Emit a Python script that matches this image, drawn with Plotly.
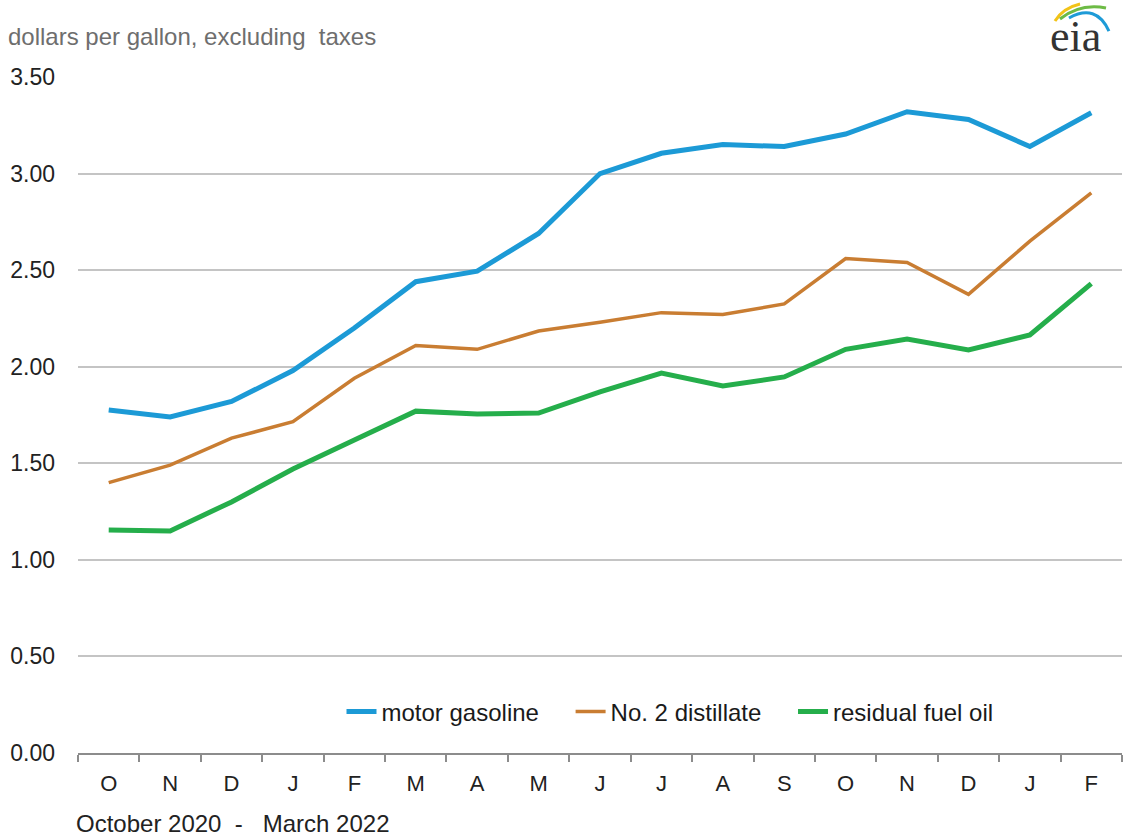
import plotly.graph_objects as go

months = ["O", "N", "D", "J", "F", "M", "A", "M", "J", "J", "A", "S", "O", "N", "D", "J", "F"]
motor_gasoline = [1.776, 1.74, 1.82, 1.98, 2.20, 2.44, 2.495, 2.69, 3.00, 3.105, 3.15, 3.14, 3.205, 3.32, 3.28, 3.14, 3.315]
no2_distillate = [1.40, 1.49, 1.63, 1.715, 1.94, 2.11, 2.09, 2.185, 2.23, 2.28, 2.27, 2.325, 2.56, 2.54, 2.375, 2.65, 2.90]
residual_fuel_oil = [1.155, 1.15, 1.30, 1.47, 1.62, 1.77, 1.755, 1.76, 1.87, 1.967, 1.90, 1.947, 2.09, 2.143, 2.087, 2.164, 2.43]
y_ticks = [0, 0.5, 1.0, 1.5, 2.0, 2.5, 3.0, 3.5]

xs = list(range(len(months)))
FONT = "Liberation Sans, Arial, sans-serif"
W, H = 1124, 836
L, R, T, B = 78, 2, 77, 83
pw, ph = W - L - R, H - T - B
GAP = "\u00a0" * 4


def px2paper(x, y):
    return (x - L) / pw, (H - B - y) / ph


fig = go.Figure()
fig.add_trace(go.Scatter(x=xs, y=motor_gasoline, mode="lines", name="motor gasoline" + GAP,
                         line=dict(color="#1C9AD6", width=5)))
fig.add_trace(go.Scatter(x=xs, y=no2_distillate, mode="lines", name="No. 2 distillate" + GAP,
                         line=dict(color="#C97D32", width=3.5)))
fig.add_trace(go.Scatter(x=xs, y=residual_fuel_oil, mode="lines", name="residual fuel oil",
                         line=dict(color="#25AE4B", width=5)))

ann = []
for text, x, y, anchor, size, color, fam in [
    ("dollars per gallon, excluding  taxes", 6, 37, "left", 24, "#6e6e6e", FONT),
    ("October 2020  -   March 2022", 74, 823, "left", 24, "#222222", FONT),
    ("eia", 1075, 36, "center", 44, "#333333", "Liberation Serif, DejaVu Serif, serif"),
]:
    ax, ay = px2paper(x, y)
    ann.append(dict(text=text, x=ax, y=ay, xref="paper", yref="paper", showarrow=False,
                    xanchor=anchor, yanchor="middle", font=dict(size=size, color=color, family=fam)))

lx, ly = px2paper(670, 712)

fig.update_layout(
    width=W, height=H,
    margin=dict(l=L, r=R, t=T, b=B),
    paper_bgcolor="white", plot_bgcolor="white",
    font=dict(family=FONT, size=22, color="#222222"),
    showlegend=True,
    legend=dict(orientation="h", x=lx, y=ly, xanchor="center", yanchor="middle",
                font=dict(size=24, color="#1a1a1a"), bgcolor="rgba(0,0,0,0)"),
    xaxis=dict(range=[-0.5, len(months) - 0.5], tickmode="array", tickvals=xs, ticktext=months,
               showgrid=False, zeroline=False, showline=True, linecolor="#8c8c8c", linewidth=1.5,
               ticks="", ticklabelstandoff=10, tickfont=dict(size=22, color="#222222"),
               minor=dict(tick0=-0.5, dtick=1, ticks="outside", ticklen=7, tickcolor="#8c8c8c",
                          tickwidth=1.5, showgrid=False)),
    yaxis=dict(range=[0, 3.5], tickmode="array", tickvals=y_ticks,
               ticktext=[f"{v:.2f}" for v in y_ticks],
               showgrid=True, gridcolor="#c4c4c4", gridwidth=1.5, zeroline=False,
               ticks="", ticklabelstandoff=22, tickfont=dict(size=23, color="#222222")),
    annotations=ann,
)


def P(x, y):
    a, b = px2paper(x, y)
    return f"{a:.4f},{b:.4f}"


# eia logo swooshes (decoration)
for pts, col, w in [
    (((1055, 21), (1063, 8), (1080, 4)), "#F2C318", 3),
    (((1060, 19), (1080, 3), (1106, 8)), "#6DBB45", 3),
    (((1069, 18), (1096, 3), (1109, 31)), "#1E9BD7", 3),
]:
    (x0, y0), (cx, cy), (x1, y1) = pts
    fig.add_shape(type="path", xref="paper", yref="paper",
                  path=f"M {P(x0, y0)} Q {P(cx, cy)} {P(x1, y1)}",
                  line=dict(color=col, width=w))

fig.write_html("out.html", config={"displayModeBar": False},
               post_script="document.body.style.margin='0';")
